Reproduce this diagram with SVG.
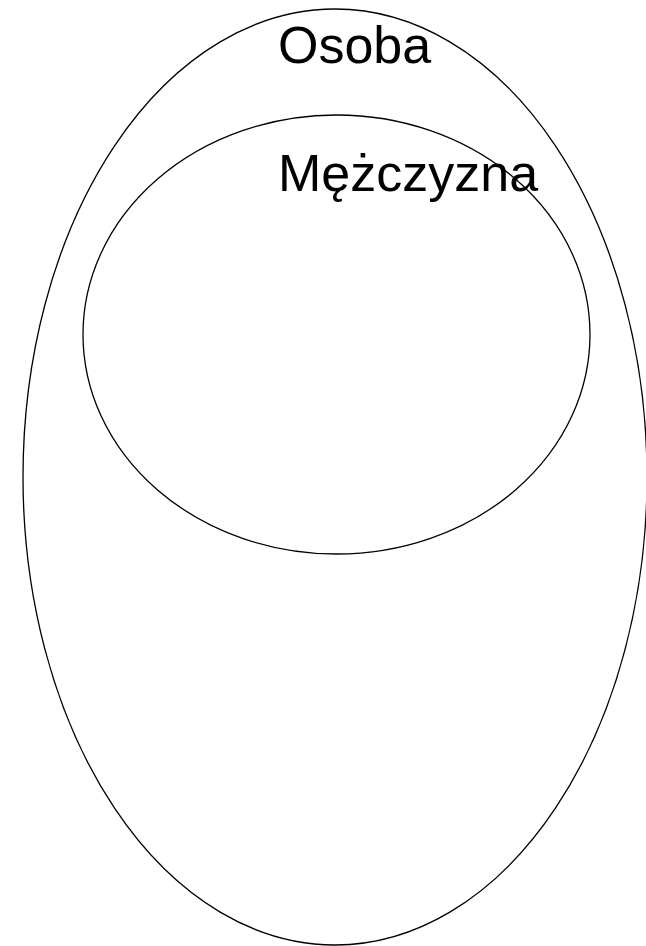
<svg xmlns="http://www.w3.org/2000/svg" width="646" height="946" viewBox="0 0 646 946">
<style>
.set{fill:none;stroke:#000;stroke-width:1.3}
.lbl{font-family:"Liberation Sans",Arial,sans-serif;font-size:52px;fill:#000}
</style>
<rect width="646" height="946" fill="#fff"/>
<g id="osoba">
<ellipse class="set" cx="335" cy="477" rx="312" ry="468"/>
<text class="lbl" x="278" y="63">Osoba</text>
</g>
<g id="mezczyzna">
<ellipse class="set" cx="336.5" cy="334.5" rx="253.5" ry="219.5"/>
<text class="lbl" x="278" y="191">Mężczyzna</text>
</g>
<g id="connectors"/>
</svg>
